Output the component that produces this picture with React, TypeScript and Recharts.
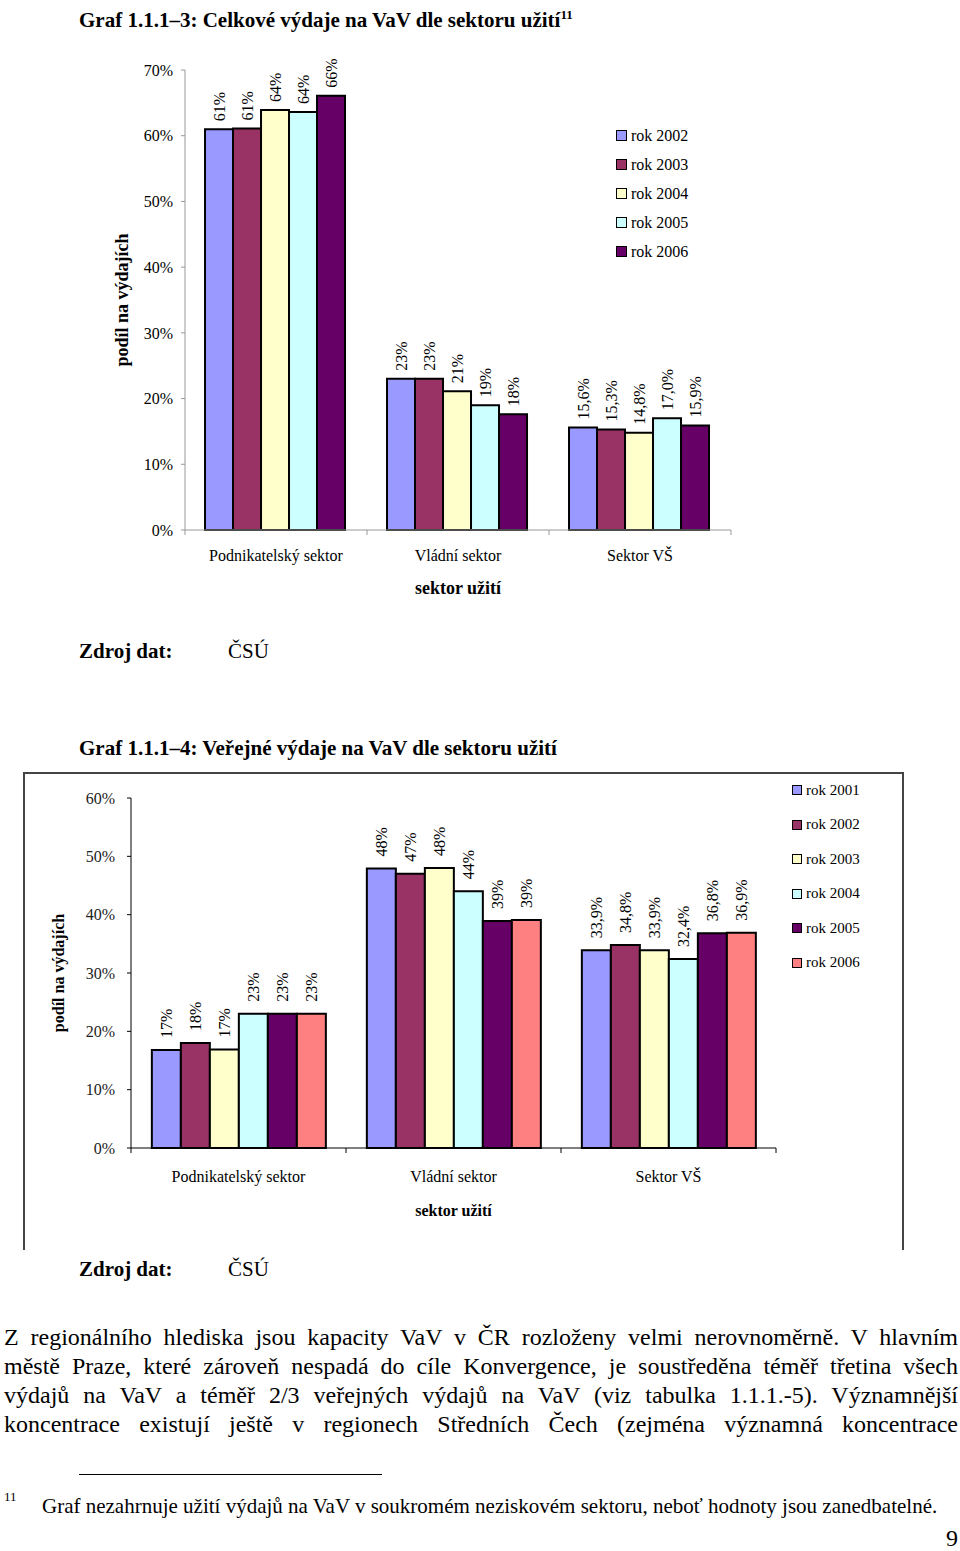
import React from "react"
import { BarChart, Bar, XAxis, YAxis, Legend, Label } from "recharts"

const categories = ["Podnikatelský sektor", "Vládní sektor", "Sektor VŠ"]
const labelDecimals = [0, 0, 1]

// Graf 1.1.1-3 (celkové výdaje), v %
const totalYears = ["rok 2002", "rok 2003", "rok 2004", "rok 2005", "rok 2006"]
const total2002 = [61.0, 23.0, 15.6]
const total2003 = [61.1, 23.0, 15.3]
const total2004 = [63.9, 21.1, 14.8]
const total2005 = [63.6, 19.0, 17.0]
const total2006 = [66.1, 17.6, 15.9]
const totalTicks = [0, 10, 20, 30, 40, 50, 60, 70]

// Graf 1.1.1-4 (veřejné výdaje), v %
const publicYears = ["rok 2001", "rok 2002", "rok 2003", "rok 2004", "rok 2005", "rok 2006"]
const public2001 = [16.8, 47.9, 33.9]
const public2002 = [18.0, 47.0, 34.8]
const public2003 = [16.9, 48.0, 33.9]
const public2004 = [23.0, 44.0, 32.4]
const public2005 = [23.0, 38.9, 36.8]
const public2006 = [23.0, 39.1, 36.9]
const publicTicks = [0, 10, 20, 30, 40, 50, 60]

const yearColors = ["#9999FF", "#993366", "#FFFFCC", "#CCFFFF", "#660066", "#FF8080"]

const totalSeries = [total2002, total2003, total2004, total2005, total2006]
const publicSeries = [public2001, public2002, public2003, public2004, public2005, public2006]

const toRows = (series: number[][]) =>
  categories.map((sector, i) => {
    const row: Record<string, string | number> = { sector }
    series.forEach((s, k) => (row["s" + k] = s[i]))
    return row
  })

const totalData = toRows(totalSeries)
const publicData = toRows(publicSeries)

const SERIF = "'Liberation Serif', 'Times New Roman', serif"

const fmtLabel = (v: number, i: number) => v.toFixed(labelDecimals[i] ?? 0).replace(".", ",") + "%"

const makeBarLabel = (gap: number) => (p: any) => {
  const cx = Number(p.x) + Number(p.width) / 2
  const top = Number(p.y) - gap
  return (
    <text
      x={cx}
      y={top}
      transform={`rotate(-90 ${cx} ${top})`}
      textAnchor="start"
      dominantBaseline="central"
      fontSize={16}
      fontFamily={SERIF}
      fill="#000"
    >
      {fmtLabel(Number(p.value), p.index)}
    </text>
  )
}

const makeSectorTick = (half: number, stroke: string, textDy: number, size: number) => (p: any) => {
  const { x, y, payload, index } = p
  return (
    <g>
      <line x1={x - half} x2={x - half} y1={y} y2={y + 5} stroke={stroke} />
      {index === categories.length - 1 && (
        <line x1={x + half} x2={x + half} y1={y} y2={y + 5} stroke={stroke} />
      )}
      <text x={x} y={y + textDy} textAnchor="middle" dominantBaseline="central" fontSize={size} fontFamily={SERIF} fill="#000">
        {payload.value}
      </text>
    </g>
  )
}

const makeLegend = (step: number, size: number, box: number) => (props: any) => (
  <div style={{ fontFamily: SERIF, fontSize: size, color: "#000" }}>
    {(props.payload || []).map((e: any) => (
      <div key={e.value} style={{ height: step, display: "flex", alignItems: "center" }}>
        <span
          style={{
            width: box,
            height: box,
            background: e.color,
            border: "1px solid #000",
            boxSizing: "border-box",
            marginRight: 4,
          }}
        />
        <span style={{ whiteSpace: "nowrap" }}>{e.value}</span>
      </div>
    ))}
  </div>
)

const yLabel = (x: number, size: number, text: string) => (p: any) => {
  const vb = p.viewBox || {}
  const cy = Number(vb.y) + Number(vb.height) / 2
  return (
    <text
      x={x}
      y={cy}
      transform={`rotate(-90 ${x} ${cy})`}
      textAnchor="middle"
      dominantBaseline="central"
      fontSize={size}
      fontWeight="bold"
      fontFamily={SERIF}
      fill="#000"
    >
      {text}
    </text>
  )
}

const abs = (left: number, top: number, extra: React.CSSProperties = {}): React.CSSProperties => ({
  position: "absolute",
  left,
  top,
  whiteSpace: "nowrap",
  ...extra,
})

const paragraph = [
  "Z regionálního hlediska jsou kapacity VaV v ČR rozloženy velmi nerovnoměrně. V hlavním",
  "městě Praze, které zároveň nespadá do cíle Konvergence, je soustředěna téměř třetina všech",
  "výdajů na VaV a téměř 2/3 veřejných výdajů na VaV (viz tabulka 1.1.1.-5). Významnější",
  "koncentrace existují ještě v regionech Středních Čech (zejména významná koncentrace",
]

const App: React.FC = () => {
  return (
    <div style={{ position: "absolute", left: 0, top: 0, width: 960, height: 1551, background: "#fff", fontFamily: SERIF, color: "#000" }}>
      <div style={abs(79, 1, { fontSize: 21, fontWeight: "bold", lineHeight: "27px" })}>
        Graf 1.1.1–3: Celkové výdaje na VaV dle sektoru užití
        <sup style={{ fontSize: 13 }}>11</sup>
      </div>

      <div style={abs(0, 0)}>
        <BarChart
          width={960}
          height={620}
          data={totalData}
          margin={{ top: 70, right: 229, left: 115, bottom: 20 }}
          barCategoryGap="11%"
          barGap={0}
        >
          <YAxis
            domain={[0, 70]}
            ticks={totalTicks}
            width={70}
            tickFormatter={(v) => `${v}%`}
            axisLine={{ stroke: "#999" }}
            tickLine={{ stroke: "#999" }}
            tickSize={4}
            tickMargin={8}
            tick={{ fontSize: 16, fontFamily: SERIF, fill: "#000" }}
          >
            <Label content={yLabel(122, 18, "podíl na výdajích")} />
          </YAxis>
          <XAxis
            dataKey="sector"
            height={70}
            axisLine={{ stroke: "#999" }}
            tickLine={false}
            tickSize={0}
            tickMargin={0}
            interval={0}
            tick={makeSectorTick(91, "#999", 25, 16)}
          >
            <Label
              value="sektor užití"
              position="insideBottom"
              offset={6}
              style={{ fontSize: 18, fontWeight: "bold", fontFamily: SERIF, fill: "#000" }}
            />
          </XAxis>
          <Legend
            layout="vertical"
            align="center"
            verticalAlign="middle"
            wrapperStyle={{ left: 616, top: 121, width: 120 }}
            content={makeLegend(29, 16, 11)}
          />
          {totalYears.map((name, k) => (
            <Bar
              key={name}
              dataKey={"s" + k}
              name={name}
              fill={yearColors[k]}
              stroke="#000"
              strokeWidth={2}
              isAnimationActive={false}
              label={makeBarLabel(8)}
            />
          ))}
        </BarChart>
      </div>

      <div style={abs(79, 638, { fontSize: 21, fontWeight: "bold", lineHeight: "26px" })}>Zdroj dat:</div>
      <div style={abs(228, 638, { fontSize: 21, lineHeight: "26px" })}>ČSÚ</div>

      <div style={abs(79, 735, { fontSize: 21, fontWeight: "bold", lineHeight: "27px" })}>
        Graf 1.1.1–4: Veřejné výdaje na VaV dle sektoru užití
      </div>

      <div
        style={{
          position: "absolute",
          left: 23,
          top: 772,
          width: 877,
          height: 476,
          border: "2px solid #444",
          borderBottom: "none",
        }}
      />

      <div style={abs(0, 760)}>
        <BarChart
          width={960}
          height={480}
          data={publicData}
          margin={{ top: 38, right: 184, left: 51, bottom: 22 }}
          barCategoryGap="9.7%"
          barGap={0}
        >
          <YAxis
            domain={[0, 60]}
            ticks={publicTicks}
            width={80}
            tickFormatter={(v) => `${v}%`}
            axisLine={{ stroke: "#000" }}
            tickLine={{ stroke: "#000" }}
            tickSize={4}
            tickMargin={12}
            tick={{ fontSize: 16, fontFamily: SERIF, fill: "#222" }}
          >
            <Label content={yLabel(58, 16, "podíl na výdajích")} />
          </YAxis>
          <XAxis
            dataKey="sector"
            height={70}
            axisLine={{ stroke: "#000" }}
            tickLine={false}
            tickSize={0}
            tickMargin={0}
            interval={0}
            tick={makeSectorTick(107.5, "#000", 28, 16)}
          >
            <Label
              value="sektor užití"
              position="insideBottom"
              offset={2}
              style={{ fontSize: 16, fontWeight: "bold", fontFamily: SERIF, fill: "#000" }}
            />
          </XAxis>
          <Legend
            layout="vertical"
            align="center"
            verticalAlign="middle"
            wrapperStyle={{ left: 792, top: 13, width: 110 }}
            content={makeLegend(34.5, 15, 10)}
          />
          {publicYears.map((name, k) => (
            <Bar
              key={name}
              dataKey={"s" + k}
              name={name}
              fill={yearColors[k]}
              stroke="#000"
              strokeWidth={2}
              isAnimationActive={false}
              label={makeBarLabel(12)}
            />
          ))}
        </BarChart>
      </div>

      <div style={abs(79, 1256, { fontSize: 21, fontWeight: "bold", lineHeight: "26px" })}>Zdroj dat:</div>
      <div style={abs(228, 1256, { fontSize: 21, lineHeight: "26px" })}>ČSÚ</div>

      <div style={{ position: "absolute", left: 4, top: 1323, width: 954, fontSize: 24, lineHeight: "29px" }}>
        {paragraph.map((line) => (
          <div key={line} style={{ textAlign: "justify", textAlignLast: "justify", whiteSpace: "nowrap" }}>
            {line}
          </div>
        ))}
      </div>

      <div style={{ position: "absolute", left: 79, top: 1474, width: 303, height: 0, borderTop: "1px solid #000" }} />
      <div style={abs(4, 1489, { fontSize: 13, lineHeight: "16px" })}>11</div>
      <div style={abs(42, 1494, { fontSize: 21, lineHeight: "24px" })}>
        Graf nezahrnuje užití výdajů na VaV v soukromém neziskovém sektoru, neboť hodnoty jsou zanedbatelné.
      </div>
      <div style={abs(946, 1524, { fontSize: 24, lineHeight: "28px" })}>9</div>
    </div>
  )
}

export default App
